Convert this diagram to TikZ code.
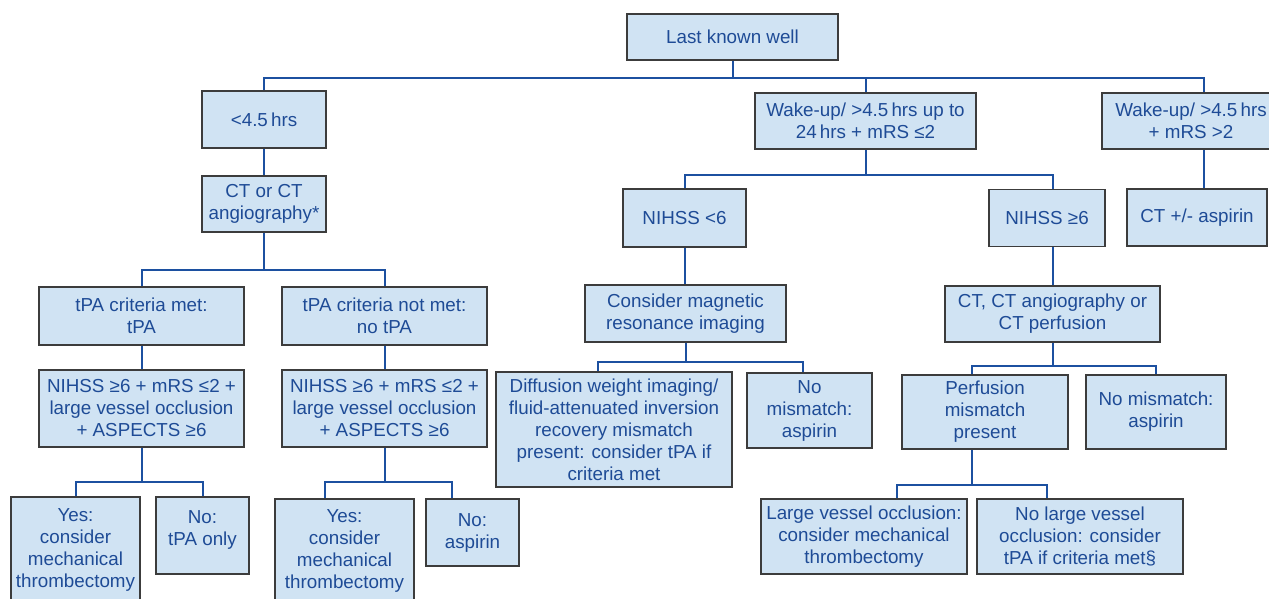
\documentclass[tikz,border=0pt]{standalone}
\usepackage{fontspec}
\setmainfont{Liberation Sans}
\definecolor{txt}{RGB}{30,75,150}
\definecolor{lne}{RGB}{28,80,160}
\definecolor{boxfill}{RGB}{208,227,243}
\definecolor{bord}{RGB}{60,60,60}
\begin{document}
\begin{tikzpicture}[x=1pt,y=-1pt,
  box/.style={draw=bord, fill=boxfill, line width=1.3pt, text=txt, inner sep=0pt, align=center,
    font=\fontsize{18.8}{22}\selectfont},
  conn/.style={draw=lne, line width=2pt}]
\useasboundingbox (0,0) rectangle (1269,599);
% top
\node[box, minimum width=211pt, minimum height=46pt] (lkw) at (732.5,37) {Last known well};
\node[box, minimum width=124pt, minimum height=57pt] (lt45) at (264,119.5) {<4.5\,hrs};
\node[box, minimum width=221pt, minimum height=56pt] (wu1) at (865.5,121) {Wake-up/ >4.5\,hrs up to\\24\,hrs + mRS ≤2};
\node[box, minimum width=178pt, minimum height=56pt] (wu2) at (1191,121) {Wake-up/ >4.5\,hrs\\+ mRS >2};
% left branch
\node[box, minimum width=124pt, minimum height=56pt] (ct1) at (264,204) {CT or CT\\angiography*};
\node[box, minimum width=205pt, minimum height=58pt] (met) at (141.5,316) {tPA criteria met:\\tPA};
\node[box, minimum width=205pt, minimum height=58pt] (notmet) at (384.5,316) {tPA criteria not met:\\no tPA};
\node[box, minimum width=205pt, minimum height=77pt] (nih1) at (141.5,408.5) {NIHSS ≥6 + mRS ≤2 +\\large vessel occlusion\\+ ASPECTS ≥6};
\node[box, minimum width=205pt, minimum height=77pt] (nih2) at (384.5,408.5) {NIHSS ≥6 + mRS ≤2 +\\large vessel occlusion\\+ ASPECTS ≥6};
\node[box, minimum width=129pt, minimum height=106pt] (yes1) at (75.5,550) {Yes:\\consider\\mechanical\\thrombectomy};
\node[box, minimum width=93pt, minimum height=77pt] (no1) at (202.5,535.5) {No:\\tPA only\\[-8pt]\mbox{}};
\node[box, minimum width=139pt, minimum height=104pt] (yes2) at (344.5,551) {Yes:\\consider\\mechanical\\thrombectomy};
\node[box, minimum width=93pt, minimum height=67pt] (no2) at (472.5,532.5) {No:\\aspirin};
% middle branch
\node[box, minimum width=123pt, minimum height=58pt] (nih6lt) at (684.5,218) {NIHSS <6};
\node[box, minimum width=116pt, minimum height=57pt] (nih6ge) at (1047,218) {NIHSS ≥6};
\node[box, minimum width=201pt, minimum height=57pt] (mri) at (685.5,313.5) {Consider magnetic\\resonance imaging};
\node[box, minimum width=236pt, minimum height=115pt] (dwi) at (614,429.5) {Diffusion weight imaging/\\fluid-attenuated inversion\\recovery mismatch\\present: consider tPA if\\criteria met};
\node[box, minimum width=125pt, minimum height=75pt] (nomm1) at (809.5,410.5) {No\\mismatch:\\aspirin};
\node[box, minimum width=215pt, minimum height=56pt] (ctp) at (1052.5,314) {CT, CT angiography or\\CT perfusion};
\node[box, minimum width=166pt, minimum height=74pt] (perf) at (985,412) {Perfusion\\mismatch\\present};
\node[box, minimum width=140pt, minimum height=74pt] (nomm2) at (1156,412) {No mismatch:\\aspirin};
\node[box, minimum width=206pt, minimum height=75pt] (lvo) at (864,536.5) {Large vessel occlusion:\\consider mechanical\\thrombectomy};
\node[box, minimum width=206pt, minimum height=75pt] (nolvo) at (1080,536.5) {No large vessel\\occlusion: consider\\tPA if criteria met§};
% right branch
\node[box, minimum width=140pt, minimum height=57pt] (ctasp) at (1197,217.5) {CT +/- aspirin};
% connectors
\draw[conn] (lkw.south) -- ++(0,17) coordinate (tb);
\draw[conn] (lt45.north) -- (lt45.north |- tb) -| ([xshift=7pt]ctasp.north |- wu2.north);
\draw[conn] (wu1.north) -- (wu1.north |- tb);
\draw[conn] (lt45.south) -- (ct1.north);
\draw[conn] (ct1.south) -- ++(0,37) coordinate (b3);
\draw[conn] (met.north) |- (b3) -| (notmet.north);
\draw[conn] (met.south) -- (nih1.north);
\draw[conn] (notmet.south) -- (nih2.north);
\draw[conn] (nih1.south) -- ++(0,34) coordinate (b4);
\draw[conn] (yes1.north) |- (b4) -| (no1.north);
\draw[conn] (nih2.south) -- ++(0,34) coordinate (b5);
\draw[conn] ([xshift=-20pt]yes2.north) |- (b5) -| ([xshift=-21pt]no2.north);
\draw[conn] (wu1.south) -- ++(0,25) coordinate (b6);
\draw[conn] (nih6lt.north) |- (b6) -| ([xshift=6pt]nih6ge.north);
\draw[conn] (nih6lt.south) -- (nih6lt.south |- mri.north);
\draw[conn] (mri.south) -- ++(0,19) coordinate (b7);
\draw[conn] ([xshift=-16pt]dwi.north) |- (b7) -| ([xshift=-7pt]nomm1.north);
\draw[conn] ([xshift=6pt]nih6ge.south) -- ([xshift=6pt]nih6ge.south |- ctp.north);
\draw[conn] (ctp.south) -- ++(0,23) coordinate (b8);
\draw[conn] ([xshift=-13pt]perf.north) |- (b8) -| (nomm2.north);
\draw[conn] ([xshift=-13pt]perf.south) -- ++(0,35) coordinate (b9);
\draw[conn] ([xshift=33pt]lvo.north) |- (b9) -| ([xshift=-33pt]nolvo.north);
\draw[conn] ([xshift=7pt]ctasp.north) -- ([xshift=7pt]ctasp.north |- wu2.south);
\end{tikzpicture}
\end{document}
